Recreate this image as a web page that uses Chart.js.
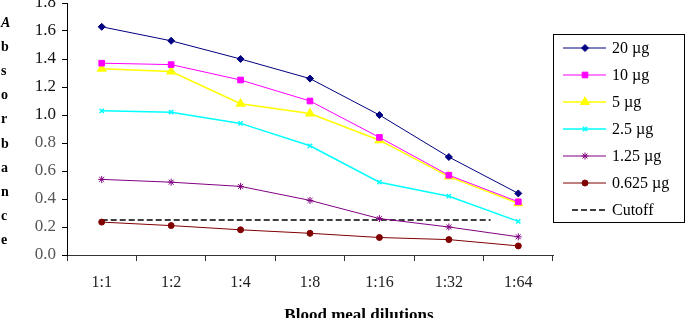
<!DOCTYPE html>
<html>
<head>
<meta charset="utf-8">
<script src="https://cdn.jsdelivr.net/npm/chart.js@4/dist/chart.umd.min.js"></script>
<style>
html,body{margin:0;padding:0;background:#fff;}
#wrap{position:relative;width:687px;height:318px;}
</style>
</head>
<body>
<div id="wrap"><canvas id="c" width="687" height="318"></canvas></div>
<script>
const categories = ['1:1','1:2','1:4','1:8','1:16','1:32','1:64'];
const s20   = [1.63, 1.53, 1.40, 1.26, 1.00, 0.70, 0.44];
const s10   = [1.37, 1.36, 1.25, 1.10, 0.84, 0.57, 0.38];
const s5    = [1.33, 1.31, 1.08, 1.01, 0.82, 0.56, 0.37];
const s2_5  = [1.03, 1.02, 0.94, 0.78, 0.52, 0.42, 0.24];
const s1_25 = [0.54, 0.52, 0.49, 0.39, 0.26, 0.20, 0.13];
const s0_625= [0.235, 0.21, 0.18, 0.155, 0.125, 0.11, 0.065];
const cutoffValue = 0.25;
const cutoffStart = 0;
const cutoffEnd = 5.6;
const seriesLabels = ['20 µg','10 µg','5 µg','2.5 µg','1.25 µg','0.625 µg','Cutoff'];
const yTitleLetters = ['A','b','s','o','r','b','a','n','c','e'];
const xTitle = 'Blood meal dilutions';

const SERIF = '"Liberation Serif", "DejaVu Serif", serif';

const axisTitles = {
  id: 'axisTitles',
  afterDraw(chart) {
    const ctx = chart.ctx;
    ctx.save();
    ctx.fillStyle = '#000';
    ctx.textAlign = 'left';
    ctx.textBaseline = 'middle';
    yTitleLetters.forEach((L, i) => {
      ctx.font = (i === 0 ? 'italic bold ' : 'bold ') + '14px ' + SERIF;
      ctx.fillText(L, 1, 23 + i * 24.2);
    });
    ctx.font = 'bold 17px ' + SERIF;
    ctx.textAlign = 'center';
    ctx.textBaseline = 'alphabetic';
    ctx.fillText(xTitle, 359, 320);
    ctx.restore();
  }
};

const customLegend = {
  id: 'customLegend',
  afterDraw(chart) {
    const ctx = chart.ctx;
    const bx = 553.5, by = 34.5, bw = 131, bh = 188;
    ctx.save();
    ctx.strokeStyle = '#000';
    ctx.lineWidth = 1;
    ctx.strokeRect(bx, by, bw, bh);
    chart.data.datasets.forEach((ds, i) => {
      const y = 48 + i * 27;
      ctx.save();
      ctx.strokeStyle = ds.borderColor;
      ctx.lineWidth = ds.borderWidth || 1;
      ctx.setLineDash(ds.borderDash || []);
      ctx.beginPath();
      ctx.moveTo(i === 6 ? 572 : 563, y);
      ctx.lineTo(606, y);
      ctx.stroke();
      ctx.setLineDash([]);
      if (ds.pointRadius > 0) {
        ctx.fillStyle = ds.pointBackgroundColor;
        ctx.strokeStyle = ds.pointBorderColor;
        Chart.helpers.drawPoint(ctx, {
          pointStyle: ds.pointStyle,
          radius: ds.pointRadius,
          rotation: 0,
          borderWidth: 1
        }, 585, y);
      }
      ctx.restore();
      ctx.fillStyle = '#000';
      ctx.font = '16px ' + SERIF;
      ctx.textAlign = 'left';
      ctx.textBaseline = 'middle';
      ctx.fillText(seriesLabels[i], 612, y + 1);
    });
    ctx.restore();
  }
};

function mk(label, data, color, style, radius, width) {
  return {
    label, data,
    borderColor: color,
    backgroundColor: color,
    pointBackgroundColor: color,
    pointBorderColor: color,
    pointStyle: style,
    pointRadius: radius,
    pointHoverRadius: radius,
    borderWidth: width,
    tension: 0,
    fill: false,
    xAxisID: 'x'
  };
}

const datasets = [
  mk(seriesLabels[0], s20, '#000080', 'rectRot', 3.5, 1),
  mk(seriesLabels[1], s10, '#FF00FF', 'rect', 4, 1),
  mk(seriesLabels[2], s5, '#FFFF00', 'triangle', 4.5, 1.5),
  mk(seriesLabels[3], s2_5, '#00FFFF', 'crossRot', 3, 1.5),
  mk(seriesLabels[4], s1_25, '#800080', 'star', 3.5, 1),
  mk(seriesLabels[5], s0_625, '#800000', 'circle', 3, 1),
  {
    label: seriesLabels[6],
    data: [{x: cutoffStart, y: cutoffValue}, {x: cutoffEnd, y: cutoffValue}],
    borderColor: '#000',
    backgroundColor: '#000',
    borderWidth: 1.5,
    borderDash: [6, 3],
    pointRadius: 0,
    pointHoverRadius: 0,
    xAxisID: 'x2',
    fill: false
  }
];

new Chart(document.getElementById('c'), {
  type: 'line',
  data: { labels: categories, datasets },
  plugins: [axisTitles, customLegend],
  options: {
    responsive: false,
    animation: false,
    events: [],
    layout: { autoPadding: false, padding: { left: 0, right: 134, top: 3, bottom: 0 } },
    plugins: { legend: { display: false }, tooltip: { enabled: false } },
    scales: {
      x: {
        type: 'category',
        offset: true,
        grid: { display: true, offset: true, drawOnChartArea: false, drawTicks: true, tickLength: 6, color: '#333' },
        border: { display: true, color: '#333', width: 1 },
        ticks: { font: { family: SERIF, size: 16 }, color: '#222', padding: 12 },
        afterFit(s) { s.height = 63; s.paddingLeft = 0; s.paddingRight = 0; }
      },
      x2: {
        type: 'linear',
        display: false,
        min: -0.5,
        max: 6.5
      },
      y: {
        min: 0,
        max: 1.8,
        grid: { display: true, drawOnChartArea: false, drawTicks: true, tickLength: 5, color: '#000' },
        border: { display: true, color: '#000', width: 1 },
        ticks: {
          stepSize: 0.2,
          font: { family: SERIF, size: 17 },
          color: (c) => (c.tick && c.tick.value >= 0.95 ? '#111' : '#555'),
          padding: 6,
          callback: (v) => Number(v).toFixed(1)
        },
        afterFit(s) { s.width = 67; s.paddingTop = 0; s.paddingBottom = 0; }
      }
    }
  }
});
</script>
</body>
</html>
